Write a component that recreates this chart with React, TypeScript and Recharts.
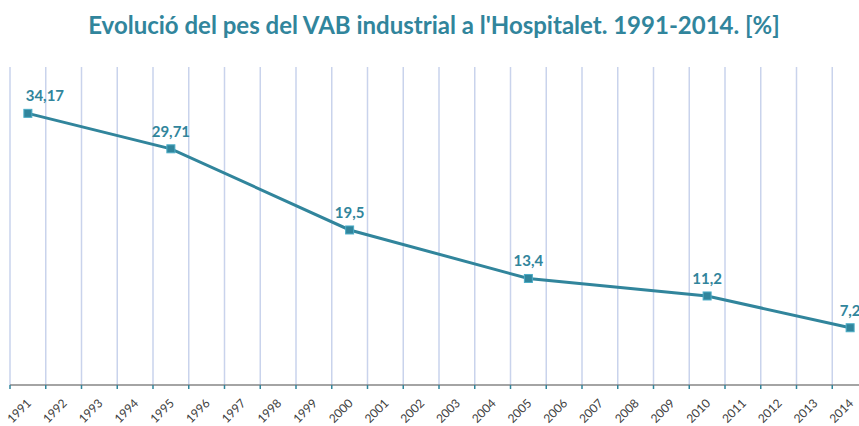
import React from 'react';
import { LineChart, Line, XAxis, YAxis, CartesianGrid, LabelList } from 'recharts';

// ─── Data ─────────────────────────────────────────────────────────────────────

const years = [
  '1991', '1992', '1993', '1994', '1995', '1996', '1997', '1998',
  '1999', '2000', '2001', '2002', '2003', '2004', '2005', '2006',
  '2007', '2008', '2009', '2010', '2011', '2012', '2013', '2014',
];

// only some years have a value; the rest are joined by the line
const vabShare: (number | null)[] = [
  34.17, null, null, null, 29.71, null, null, null,
  null, 19.5, null, null, null, null, 13.4, null,
  null, null, null, 11.2, null, null, null, 7.2,
];

const TITLE = "Evolució del pes del VAB industrial a l'Hospitalet. 1991-2014. [%]";

const data = years.map((y, i) => ({ year: y, value: vabShare[i] }));

// ─── Style ────────────────────────────────────────────────────────────────────

const TEAL = '#31859C';
const FONT = 'Lato, "Open Sans", sans-serif';

function SquareDot(props: any) {
  const { cx, cy, value } = props;
  if (value == null || cx == null || cy == null) return null;
  return (
    <rect x={cx - 4} y={cy - 4} width={8} height={8} fill={TEAL} stroke="#4BACC6" strokeWidth={1} />
  );
}

function ValueLabel(props: any) {
  const { x, y, value, index } = props;
  if (value == null) return null;
  // first label is pushed inside the plot area, like the original
  const dx = index === 0 ? 17 : 0;
  return (
    <text
      x={x + dx}
      y={y - 12}
      textAnchor="middle"
      fill={TEAL}
      fontFamily={FONT}
      fontWeight={700}
      fontSize={15}
    >
      {String(value).replace('.', ',')}
    </text>
  );
}

function YearTick(props: any) {
  const { x, y, payload } = props;
  const half = payload?.offset ?? 17.9;
  const tx = x + 4;
  const ty = y + 11;
  return (
    <g>
      <line x1={x - half} y1={y - 8} x2={x - half} y2={y - 4} stroke={TEAL} strokeWidth={1.5} />
      <text
        x={tx}
        y={ty}
        transform={`rotate(-45 ${tx} ${ty})`}
        textAnchor="end"
        fill="#404040"
        fontFamily={FONT}
        fontSize={12}
      >
        {payload.value}
      </text>
    </g>
  );
}

export default function App() {
  return (
    <div
      style={{
        position: 'absolute',
        left: 0,
        top: 0,
        width: 859,
        height: 426,
        overflow: 'hidden',
        background: '#fff',
      }}
    >
      <div
        style={{
          position: 'absolute',
          left: 0,
          top: 10,
          width: 868,
          textAlign: 'center',
          color: TEAL,
          fontFamily: FONT,
          fontWeight: 700,
          fontSize: 24,
        }}
      >
        {TITLE}
      </div>
      <LineChart
        width={880}
        height={426}
        data={data}
        margin={{ top: 67, right: 12, bottom: 0, left: 10 }}
      >
        <CartesianGrid
          horizontal={false}
          stroke="#C9D3EC"
          strokeWidth={1.5}
          verticalCoordinatesGenerator={({ offset }: any) =>
            years.map((_, i) => offset.left + (i * offset.width) / years.length)
          }
        />
        <XAxis
          dataKey="year"
          scale="band"
          interval={0}
          height={41}
          tickLine={false}
          axisLine={{ stroke: '#868686', strokeWidth: 1.5 }}
          tick={<YearTick />}
        />
        <YAxis hide domain={[0, 40]} />
        <Line
          type="linear"
          dataKey="value"
          stroke={TEAL}
          strokeWidth={3}
          connectNulls
          dot={<SquareDot />}
          activeDot={false}
          isAnimationActive={false}
        >
          <LabelList dataKey="value" content={<ValueLabel />} />
        </Line>
      </LineChart>
    </div>
  );
}
